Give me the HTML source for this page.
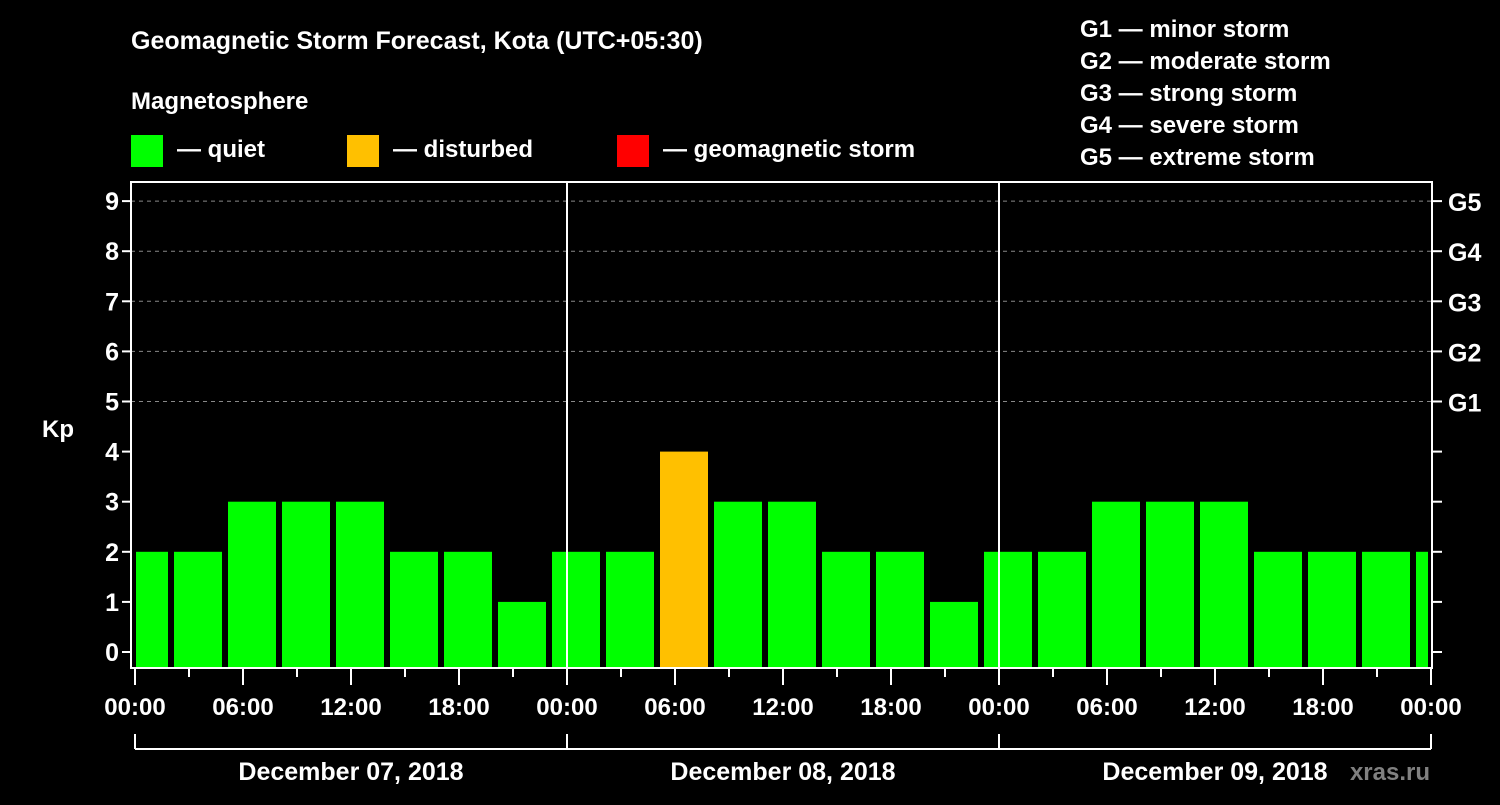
<!DOCTYPE html>
<html><head><meta charset="utf-8"><style>
body{margin:0;background:#000;width:1500px;height:800px;overflow:hidden}
svg text{font-family:"Liberation Sans",Arial,sans-serif;font-weight:bold;fill:#fff}
</style></head><body>
<svg id="c" width="1500" height="800" xmlns="http://www.w3.org/2000/svg">
<rect width="1500" height="800" fill="#000"/>
<text x="131" y="49" font-size="25">Geomagnetic Storm Forecast, Kota (UTC+05:30)</text>
<text x="131" y="109" font-size="24">Magnetosphere</text>
<g><rect x="131" y="135" width="32" height="32" fill="#00ff00"/><text x="177" y="157" font-size="24">— quiet</text></g>
<g><rect x="347" y="135" width="32" height="32" fill="#ffc000"/><text x="393" y="157" font-size="24">— disturbed</text></g>
<g><rect x="617" y="135" width="32" height="32" fill="#ff0000"/><text x="663" y="157" font-size="24">— geomagnetic storm</text></g>
<g font-size="24">
<text x="1080" y="37">G1 — minor storm</text>
<text x="1080" y="69">G2 — moderate storm</text>
<text x="1080" y="101">G3 — strong storm</text>
<text x="1080" y="133">G4 — severe storm</text>
<text x="1080" y="165">G5 — extreme storm</text>
</g>
<text x="42" y="437" font-size="24">Kp</text>
<text x="1430" y="780" font-size="24" fill="#808080" style="fill:#808080" text-anchor="end">xras.ru</text>
<g id="plot"></g>
</svg>
<script>
const kpValues=[2,2,3,3,3,2,2,1,2,2,4,3,3,2,2,1,2,2,3,3,3,2,2,2,2];
const dayLabels=["December 07, 2018","December 08, 2018","December 09, 2018"];
const timeLabels=["00:00","06:00","12:00","18:00"];
const gLabels=["G1","G2","G3","G4","G5"];
const firstBarCenterHour=0.5;
const NS="http://www.w3.org/2000/svg";
const g=document.getElementById('plot');
const L=131,R=1432,T=182,B=668,X0=135,HW=18;
const xs=h=>X0+h*HW;
const ys=v=>652-v*50.1;
function mk(t,a,p){const e=document.createElementNS(NS,t);for(const k in a)e.setAttribute(k,a[k]);(p||g).appendChild(e);return e;}
// grid
for(let v=5;v<=9;v++){const e=mk('line',{x1:L,x2:R,y1:ys(v),y2:ys(v),stroke:'#888','stroke-dasharray':'4,4','stroke-width':1});

}
// bars
kpValues.forEach((v,i)=>{const c=xs(firstBarCenterHour+3*i);let x1=Math.max(c-24,L+5),x2=Math.min(c+24,R-4);
const col=v>=5?'#ff0000':v>=4?'#ffc000':'#00ff00';
const e=mk('rect',{x:x1,y:ys(v),width:x2-x1,height:B-ys(v),fill:col});

});
// frame
const fr=mk('rect',{x:L,y:T,width:R-L,height:B-T,fill:'none',stroke:'#fff','stroke-width':2});


for(let d=1;d<3;d++){const e=mk('line',{x1:xs(24*d),x2:xs(24*d),y1:T,y2:B,stroke:'#fff','stroke-width':2});

}
// y ticks
for(let v=0;v<=9;v++){const y=ys(v);mk('line',{x1:L-9,x2:L,y1:y,y2:y,stroke:'#fff','stroke-width':2});mk('line',{x1:R,x2:R+10,y1:y,y2:y,stroke:'#fff','stroke-width':2});
const t=mk('text',{x:L-12,y:y+9,'font-size':25,'text-anchor':'end'});t.textContent=v;


if(v>=5){const t2=mk('text',{x:1448,y:y+10,'font-size':25});t2.textContent=gLabels[v-5];

}}
// x ticks
for(let h=0;h<=72;h+=3){const x=xs(h);const maj=h%6==0;mk('line',{x1:x,x2:x,y1:B,y2:B+(maj?17:9),stroke:'#fff','stroke-width':2});
if(maj){const t=mk('text',{x:x,y:715,'font-size':24,'text-anchor':'middle'});t.textContent=timeLabels[(h/6)%4];

}}
// day bracket
mk('line',{x1:xs(0),x2:xs(72),y1:749,y2:749,stroke:'#fff','stroke-width':2});
for(let d=0;d<=3;d++)mk('line',{x1:xs(24*d),x2:xs(24*d),y1:734,y2:749,stroke:'#fff','stroke-width':2});
dayLabels.forEach((s,d)=>{const t=mk('text',{x:xs(24*d+12),y:780,'font-size':25,'text-anchor':'middle'});t.textContent=s;

});
</script>
</body></html>
